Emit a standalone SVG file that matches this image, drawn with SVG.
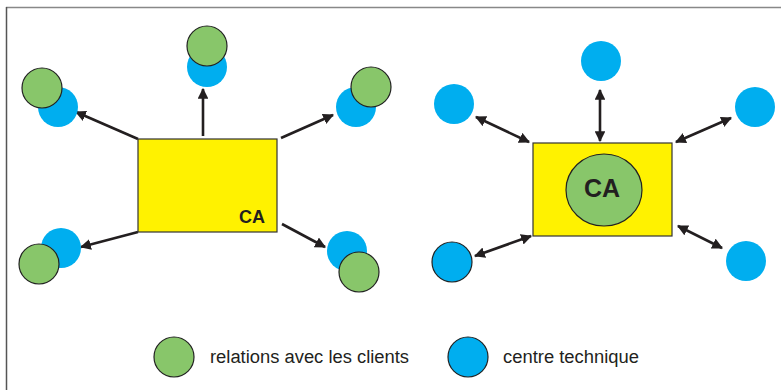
<svg xmlns="http://www.w3.org/2000/svg" width="781" height="390" viewBox="0 0 781 390">
<style>
.g{fill:#88c66a;stroke:#222;stroke-width:1.2}
.b{fill:#00aeef}
.bs{fill:#00aeef;stroke:#222;stroke-width:1.2}
.box{fill:#fff200;stroke:#333;stroke-width:1.2}
.ln{stroke:#231f20;stroke-width:2.6;fill:none}
.ca{font-family:"Liberation Sans",Arial,sans-serif;font-weight:bold;fill:#231f20}
.lg{font-family:"Liberation Sans",Arial,sans-serif;font-size:18px;fill:#231f20}
</style>
<defs>
<marker id="ah" viewBox="0 0 10 10" refX="9" refY="5" markerWidth="4.2" markerHeight="4.2" markerUnits="strokeWidth" orient="auto-start-reverse">
<path d="M0,0 L10,5 L0,10 z" fill="#231f20"/>
</marker>
</defs>
<rect width="781" height="390" fill="#fff"/>
<line x1="6" y1="7.5" x2="781" y2="7.5" stroke="#888" stroke-width="1.5"/>
<line x1="6.5" y1="7" x2="6.5" y2="390" stroke="#555" stroke-width="1.5"/>

<g id="connectors">
<line class="ln" x1="203" y1="136" x2="203" y2="89" marker-end="url(#ah)"/>
<line class="ln" x1="138" y1="139" x2="76" y2="112" marker-end="url(#ah)"/>
<line class="ln" x1="281" y1="138" x2="333" y2="115" marker-end="url(#ah)"/>
<line class="ln" x1="138" y1="232" x2="81" y2="247" marker-end="url(#ah)"/>
<line class="ln" x1="282" y1="224" x2="325" y2="247" marker-end="url(#ah)"/>
<line class="ln" x1="600" y1="90" x2="600" y2="141" marker-start="url(#ah)" marker-end="url(#ah)"/>
<line class="ln" x1="476" y1="117" x2="529" y2="142" marker-start="url(#ah)" marker-end="url(#ah)"/>
<line class="ln" x1="676" y1="142" x2="731" y2="118" marker-start="url(#ah)" marker-end="url(#ah)"/>
<line class="ln" x1="475" y1="256" x2="531" y2="236" marker-start="url(#ah)" marker-end="url(#ah)"/>
<line class="ln" x1="678" y1="226" x2="722" y2="248" marker-start="url(#ah)" marker-end="url(#ah)"/>
</g>

<g id="ca-left">
<rect class="box" x="138" y="139" width="139" height="93"/>
<text class="ca" x="239" y="223" font-size="18">CA</text>
</g>
<g id="left-top">
<circle class="b" cx="207" cy="67" r="20"/>
<circle class="g" cx="207" cy="46" r="20"/>
</g>
<g id="left-topleft">
<circle class="b" cx="58" cy="107" r="20"/>
<circle class="g" cx="42" cy="88" r="20"/>
</g>
<g id="left-topright">
<circle class="b" cx="356" cy="107" r="20"/>
<circle class="g" cx="371" cy="87" r="20"/>
</g>
<g id="left-bottomleft">
<circle class="b" cx="61" cy="248" r="20"/>
<circle class="g" cx="39" cy="264" r="20"/>
</g>
<g id="left-bottomright">
<circle class="b" cx="347" cy="251" r="20"/>
<circle class="g" cx="359" cy="272" r="20"/>
</g>

<g id="ca-right">
<rect class="box" x="533" y="143" width="139" height="93"/>
<ellipse class="g" cx="604" cy="190" rx="38" ry="36"/>
<text class="ca" x="602" y="197" font-size="25" text-anchor="middle">CA</text>
</g>
<g id="right-top"><circle class="b" cx="601" cy="61" r="20"/></g>
<g id="right-topleft"><circle class="b" cx="454" cy="104" r="20"/></g>
<g id="right-topright"><circle class="b" cx="755" cy="107" r="20"/></g>
<g id="right-bottomleft"><circle class="bs" cx="452" cy="262" r="20"/></g>
<g id="right-bottomright"><circle class="b" cx="746" cy="261" r="20"/></g>

<g id="legend-green">
<circle class="g" cx="174" cy="357" r="20"/>
<text class="lg" x="210" y="363" textLength="199" lengthAdjust="spacingAndGlyphs">relations avec les clients</text>
</g>
<g id="legend-blue">
<circle class="bs" cx="468" cy="357" r="20"/>
<text class="lg" x="503" y="363" textLength="136" lengthAdjust="spacingAndGlyphs">centre technique</text>
</g>
</svg>
